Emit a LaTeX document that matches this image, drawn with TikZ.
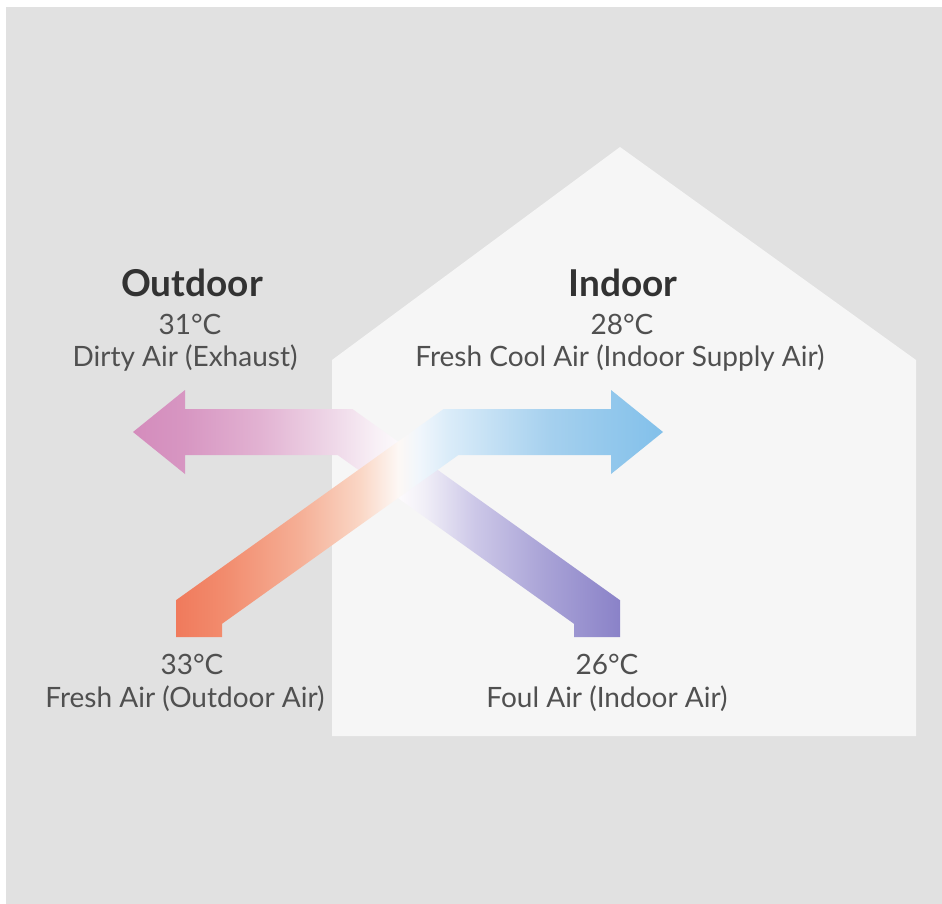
\documentclass[tikz,border=0pt]{standalone}
\usepackage{fontspec}
\setmainfont{Lato}
\definecolor{bgwhite}{RGB}{255,255,255}
\definecolor{bggray}{RGB}{225,225,225}
\definecolor{housefill}{RGB}{246,246,246}
\definecolor{txtbold}{RGB}{50,50,50}
\definecolor{txtreg}{RGB}{80,80,80}
\definecolor{a1}{RGB}{212,140,188}
\definecolor{a2}{RGB}{215,150,194}
\definecolor{a3}{RGB}{226,178,210}
\definecolor{a4}{RGB}{238,214,231}
\definecolor{a5}{RGB}{248,240,246}
\definecolor{a6}{RGB}{252,250,252}
\definecolor{a7}{RGB}{240,238,247}
\definecolor{a8}{RGB}{205,200,232}
\definecolor{a9}{RGB}{170,164,215}
\definecolor{a10}{RGB}{138,130,200}
\definecolor{b1}{RGB}{240,122,92}
\definecolor{b2}{RGB}{242,140,110}
\definecolor{b3}{RGB}{245,175,150}
\definecolor{b4}{RGB}{250,215,198}
\definecolor{b5}{RGB}{253,248,245}
\definecolor{b6}{RGB}{240,246,252}
\definecolor{b7}{RGB}{218,236,249}
\definecolor{b8}{RGB}{165,208,238}
\definecolor{b9}{RGB}{130,192,234}
\pgfdeclarehorizontalshading{shadeA}{100bp}{color(0bp)=(a1); color(25bp)=(a1); color(30.3bp)=(a2); color(38bp)=(a3); color(45.2bp)=(a4); color(50bp)=(a5); color(52.5bp)=(a6); color(55bp)=(a7); color(60bp)=(a8); color(67bp)=(a9); color(75bp)=(a10); color(100bp)=(a10)}
\pgfdeclarehorizontalshading{shadeB}{100bp}{color(0bp)=(b1); color(25bp)=(b1); color(30bp)=(b2); color(37.7bp)=(b3); color(44bp)=(b4); color(47.8bp)=(b5); color(50bp)=(b6); color(53bp)=(b7); color(63.4bp)=(b8); color(75bp)=(b9); color(100bp)=(b9)}
\tikzset{
  boldlbl/.style={font=\fontsize{37}{42}\selectfont\bfseries, text=txtbold, inner sep=0pt, anchor=base},
  reglbl/.style={font=\fontsize{28}{33}\selectfont, text=txtreg, inner sep=0pt, anchor=base},
}
\begin{document}
\begin{tikzpicture}[x=1pt,y=-1pt]
\fill[bgwhite] (0,0) rectangle (942,904);
\useasboundingbox (0,0) rectangle (942,904);
\fill[bggray] (6,7) rectangle (942,904);
% house
\fill[housefill] (332,736) -- (332,360) -- (620,147) -- (916,360) -- (916,736) -- cycle;
% exhaust path: foul indoor air -> outdoor
\shade[shading=shadeA] (574,637) -- (620,637) -- (620,600.2) -- (352.4,409) -- (185,409) -- (185,390) -- (133,432) -- (185,474) -- (185,455) -- (337.6,455) -- (574,623.8) -- cycle;
% supply path: outdoor fresh air -> indoor
\shade[shading=shadeB] (222,637) -- (176,637) -- (176,600.2) -- (443.6,409) -- (611,409) -- (611,390) -- (663,432) -- (611,474) -- (611,455) -- (458.4,455) -- (222,623.8) -- cycle;
% labels
\node[boldlbl] (outT) at (192,296) {Outdoor};
\node[reglbl] (outTemp) at (190,334) {31°C};
\node[reglbl] (outDesc) at (185,366) {Dirty Air (Exhaust)};
\node[boldlbl] (inT) at (623,296) {Indoor};
\node[reglbl] (inTemp) at (622,334) {28°C};
\node[reglbl] (inDesc) at (620,366) {Fresh Cool Air (Indoor Supply Air)};
\node[reglbl] (faTemp) at (192,674) {33°C};
\node[reglbl] (faDesc) at (185,707) {Fresh Air (Outdoor Air)};
\node[reglbl] (foTemp) at (607,674) {26°C};
\node[reglbl] (foDesc) at (607,707) {Foul Air (Indoor Air)};
\end{tikzpicture}
\end{document}
